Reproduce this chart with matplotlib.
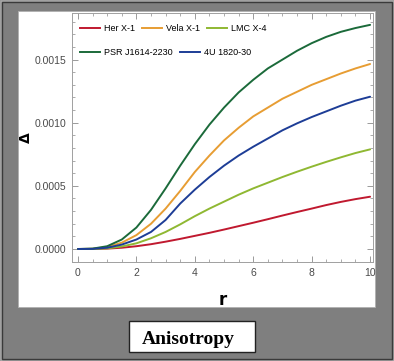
import matplotlib
matplotlib.use("Agg")
import matplotlib.pyplot as plt
from matplotlib.patches import Rectangle
from matplotlib.lines import Line2D
from matplotlib.ticker import MultipleLocator, FormatStrFormatter

# radial coordinate
r = [0, 0.5, 1, 1.5, 2, 2.5, 3, 3.5, 4, 4.5, 5,
     5.5, 6, 6.5, 7, 7.5, 8, 8.5, 9, 9.5, 10]

# anisotropy values
her_x1 = [0, 0.0, 0.000003, 0.000010, 0.000022, 0.000038, 0.000058, 0.000080,
          0.000104, 0.000128, 0.000154, 0.000181, 0.000208, 0.000236, 0.000265,
          0.000293, 0.000320, 0.000348, 0.000373, 0.000395, 0.000414]
vela_x1 = [0, 0.000002, 0.000015, 0.000050, 0.000110, 0.000200, 0.000320, 0.000460,
           0.000610, 0.000740, 0.000860, 0.000960, 0.001050, 0.001120, 0.001190,
           0.001245, 0.001300, 0.001345, 0.001390, 0.001430, 0.001465]
lmc_x4 = [0, 0.0000005, 0.000005, 0.000020, 0.000045, 0.000085, 0.000135, 0.000195,
          0.000260, 0.000320, 0.000375, 0.000430, 0.000480, 0.000525, 0.000570,
          0.000612, 0.000652, 0.000690, 0.000726, 0.000760, 0.000789]
psr_j1614 = [0, 0.000003, 0.000022, 0.000075, 0.000170, 0.000310, 0.000480, 0.000660,
             0.000830, 0.000985, 0.001120, 0.001240, 0.001340, 0.001430, 0.001500,
             0.001570, 0.001630, 0.001680, 0.001720, 0.001750, 0.001775]
u4_1820 = [0, 0.000001, 0.000010, 0.000035, 0.000075, 0.000135, 0.000230, 0.000360,
           0.000470, 0.000570, 0.000660, 0.000740, 0.000810, 0.000875, 0.000940,
           0.000995, 0.001045, 0.001090, 0.001135, 0.001175, 0.001206]

W, H = 394, 361
fig = plt.figure(figsize=(W / 100, H / 100), dpi=100)
fig.patch.set_facecolor('#7f7f7f')


def px_rect(x0, y0, x1, y1, **kw):
    # rectangle given in pixel coords (origin top-left)
    return Rectangle((x0 / W, 1 - y1 / H), (x1 - x0) / W, (y1 - y0) / H,
                     transform=fig.transFigure, **kw)


# outer frame
fig.add_artist(px_rect(0.5, 0.5, 393.5, 360.5, facecolor='none', edgecolor='#a8a8a8', lw=1.2, zorder=-3))
fig.add_artist(px_rect(2, 2, 392, 358.5, facecolor='none', edgecolor='#3a3a3a', lw=1.0, zorder=-2))
# white panel behind the plot
fig.add_artist(px_rect(18, 11, 375, 307, facecolor='white', edgecolor='#b0b0b0', lw=0.6, zorder=-1))

ax = fig.add_axes([72 / W, 1 - 262 / H, (373 - 72) / W, (262 - 13) / H])

series = [
    ('Her X-1', her_x1, '#c0192f'),
    ('Vela X-1', vela_x1, '#e79d33'),
    ('LMC X-4', lmc_x4, '#8fb832'),
    ('PSR J1614-2230', psr_j1614, '#1b6a3a'),
    ('4U 1820-30', u4_1820, '#1d3d96'),
]
for name, vals, col in series:
    ax.plot(r, vals, color=col, lw=1.4, label=name, solid_capstyle='round')

ax.set_xlim(-0.205, 10.1)
ax.set_ylim(-0.000103, 0.001869)

ax.xaxis.set_major_locator(MultipleLocator(2))
ax.xaxis.set_minor_locator(MultipleLocator(0.5))
ax.yaxis.set_major_locator(MultipleLocator(0.0005))
ax.yaxis.set_minor_locator(MultipleLocator(0.0001))
ax.yaxis.set_major_formatter(FormatStrFormatter('%.4f'))

ax.tick_params(which='both', direction='in', top=True, right=True, color='#8a8a8a')
ax.tick_params(which='major', length=4, width=0.6, labelsize=7.5, labelcolor='#4a4a4a', pad=4)
ax.tick_params(which='minor', length=2.2, width=0.5)
for lab in ax.get_xticklabels() + ax.get_yticklabels():
    lab.set_fontfamily('Liberation Sans')
for sp in ax.spines.values():
    sp.set_color('#a0a0a0')
    sp.set_linewidth(0.7)

ax.set_ylabel('Δ', fontsize=10, fontweight='bold', labelpad=1)
ax.set_xlabel('r', fontsize=12, fontweight='bold', labelpad=10)

# legend in two rows, each fitting its own text
handles = [Line2D([], [], color=c, lw=1.4) for _, _, c in series]
names = [n for n, _, _ in series]
leg_kw = dict(frameon=False, handlelength=2.2, handletextpad=0.45, columnspacing=0.8,
              prop={'family': 'Liberation Sans', 'size': 6.5}, borderaxespad=0,
              borderpad=0)
leg1 = ax.legend(handles[:3], names[:3], ncol=3, loc='upper left',
                 bbox_to_anchor=(0.027, 0.955), **leg_kw)
ax.add_artist(leg1)
ax.legend(handles[3:], names[3:], ncol=2, loc='upper left',
          bbox_to_anchor=(0.027, 0.858), **leg_kw)

# caption box
fig.add_artist(px_rect(128.5, 320.5, 254.5, 352, facecolor='white', edgecolor='#222222', lw=1.0, zorder=2))
fig.text(188 / W, 1 - 339 / H, 'Anisotropy', ha='center', va='center',
         fontsize=14, fontweight='bold', family='Liberation Serif', zorder=3)

fig.savefig('out.png', dpi=100, facecolor=fig.get_facecolor())
